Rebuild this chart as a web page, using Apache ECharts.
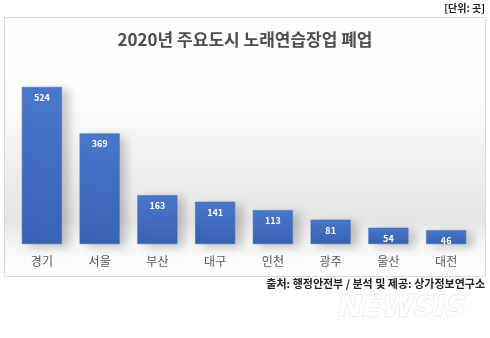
<!DOCTYPE html>
<html>
<head>
<meta charset="utf-8">
<script src="https://cdn.jsdelivr.net/npm/echarts@6/dist/echarts.min.js"></script>
<style>
  html, body { margin: 0; padding: 0; background: #ffffff; }
  #chart { width: 490px; height: 338px; }
</style>
</head>
<body>
<div id="chart"></div>
<script>
// 2020년 주요도시 노래연습장업 폐업 (단위: 곳)
const cities = ['경기', '서울', '부산', '대구', '인천', '광주', '울산', '대전'];
const closures = [524, 369, 163, 141, 113, 81, 54, 46];

const titleText = '2020년 주요도시 노래연습장업 폐업';
const unitText = '[단위: 곳]';
const sourceText = '출처: 행정안전부 / 분석 및 제공: 상가정보연구소';
const markText = 'NEWSIS';

const FONT = '"Noto Sans CJK KR", "Noto Sans", sans-serif';

const chart = echarts.init(document.getElementById('chart'));

chart.setOption({
  animation: false,
  backgroundColor: '#ffffff',
  graphic: [
    {
      // chart panel with a soft grey wash behind the bars
      type: 'rect',
      z: -10,
      shape: { x: 4.5, y: 17.5, width: 481, height: 259 },
      style: {
        stroke: '#d9d9d9',
        lineWidth: 1,
        fill: new echarts.graphic.LinearGradient(0, 0, 0, 1, [
          { offset: 0, color: '#ffffff' },
          { offset: 0.35, color: '#fbfbfb' },
          { offset: 0.78, color: '#e4e4e4' },
          { offset: 0.88, color: '#f6f6f6' },
          { offset: 1, color: '#ffffff' }
        ])
      }
    },
    {
      type: 'text',
      right: 5,
      top: 3,
      style: { text: unitText, font: 'bold 10px ' + FONT, fill: '#222222' }
    },
    {
      type: 'text',
      left: 'center',
      top: 31,
      style: { text: titleText, font: 'bold 17px ' + FONT, fill: '#4d4d4d' }
    },
    {
      type: 'text',
      right: 5,
      top: 278,
      style: { text: sourceText, font: 'bold 11px ' + FONT, fill: '#222222' }
    },
    {
      type: 'text',
      z: 10,
      x: 338,
      y: 294,
      style: {
        text: markText,
        font: 'italic bold 29px "DejaVu Sans", sans-serif',
        fill: '#ffffff',
        stroke: '#dcdcdc',
        lineWidth: 1,
        shadowColor: 'rgba(0,0,0,0.3)',
        shadowBlur: 5,
        shadowOffsetX: 1,
        shadowOffsetY: 2
      }
    }
  ],
  grid: { left: 13, right: 15, top: 87, bottom: 94, containLabel: false },
  xAxis: {
    type: 'category',
    data: cities,
    axisLine: { show: false },
    axisTick: { show: false },
    axisLabel: {
      margin: 11,
      fontFamily: FONT,
      fontSize: 12,
      color: '#595959'
    }
  },
  yAxis: {
    type: 'value',
    min: 0,
    max: 524,
    show: false,
    splitLine: { show: false }
  },
  series: [{
    type: 'bar',
    data: closures,
    barWidth: 40,
    itemStyle: {
      color: new echarts.graphic.LinearGradient(0, 0, 0, 1, [
        { offset: 0, color: '#4a78cc' },
        { offset: 1, color: '#3962b4' }
      ]),
      borderColor: '#3a64b6',
      borderWidth: 0.5,
      shadowColor: 'rgba(0,0,0,0.2)',
      shadowBlur: 9,
      shadowOffsetX: 7,
      shadowOffsetY: 3
    },
    label: {
      show: true,
      position: 'insideTop',
      distance: 6,
      color: '#ffffff',
      fontFamily: FONT,
      fontWeight: 'bold',
      fontSize: 9
    }
  }]
});
</script>
</body>
</html>
